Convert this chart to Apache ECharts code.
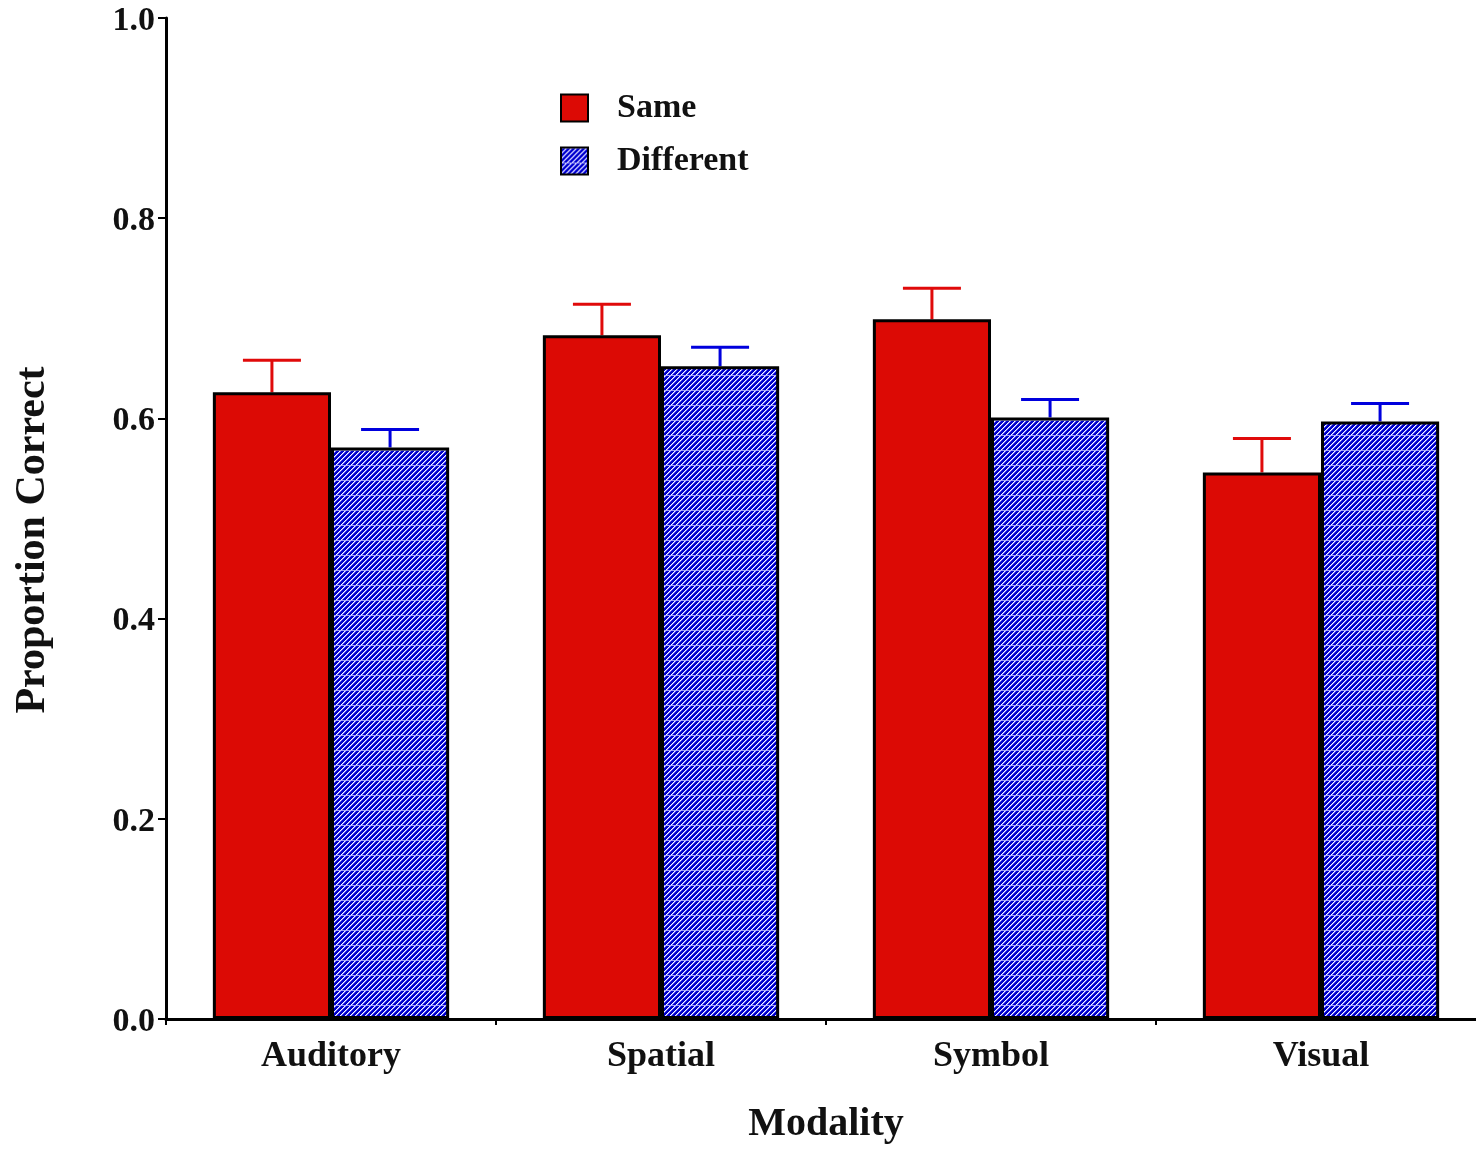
<!DOCTYPE html>
<html>
<head>
<meta charset="utf-8">
<script src="https://cdn.jsdelivr.net/npm/echarts@6/dist/echarts.min.js"></script>
<style>
html,body{margin:0;padding:0;background:#fff;}
#chart{width:1476px;height:1149px;}
</style>
</head>
<body>
<div id="chart"></div>
<script>
const categories = ['Auditory', 'Spatial', 'Symbol', 'Visual'];
const seriesNames = ['Same', 'Different'];
const sameValues = [0.626, 0.683, 0.699, 0.546];
const sameErrors = [0.032, 0.031, 0.031, 0.034];
const diffValues = [0.571, 0.652, 0.601, 0.597];
const diffErrors = [0.018, 0.019, 0.018, 0.018];
const yTicks = [0, 0.2, 0.4, 0.6, 0.8, 1.0];

const FONT = '"Liberation Serif", "Times New Roman", serif';
const RED = '#dc0a05';
const BLUE = '#0000cc';

function makeHatch() {
  const W = 5, H = 15;
  const c = document.createElement('canvas');
  c.width = W; c.height = H;
  const ctx = c.getContext('2d');
  ctx.fillStyle = BLUE;
  ctx.fillRect(0, 0, W, H);
  for (let y = 0; y < H; y++) {
    for (let x = 0; x < W; x++) {
      const m = (x + y) % 5;
      if (m === 0) { ctx.fillStyle = '#ffffff'; ctx.fillRect(x, y, 1, 1); }
      else if (m === 1) { ctx.fillStyle = '#7a7aff'; ctx.fillRect(x, y, 1, 1); }
    }
  }
  ctx.fillStyle = 'rgba(190,190,255,0.8)';
  ctx.fillRect(0, 0, W, 1);
  return c;
}
const hatch = makeHatch();

const BAR_FRAC = 0.358;

function errorSeries(name, values, errors, sign, color) {
  return {
    name: name + ' error',
    type: 'custom',
    z: 1,
    silent: true,
    encode: { x: 0, y: [1, 2] },
    data: values.map((v, i) => [i, v, v + errors[i]]),
    renderItem: function (params, api) {
      const idx = api.value(0);
      const base = api.coord([idx, api.value(1)]);
      const top = api.coord([idx, api.value(2)]);
      const band = api.size([1, 0])[0];
      const barW = band * BAR_FRAC;
      const x = base[0] + sign * barW / 2;
      const capHalf = 29;
      const style = { stroke: color, lineWidth: 3 };
      return {
        type: 'group',
        children: [
          { type: 'line', shape: { x1: x, y1: base[1], x2: x, y2: top[1] }, style: style },
          { type: 'line', shape: { x1: x - capHalf, y1: top[1], x2: x + capHalf, y2: top[1] }, style: style }
        ]
      };
    }
  };
}

const chart = echarts.init(document.getElementById('chart'), null, { renderer: 'canvas' });
chart.setOption({
  backgroundColor: '#ffffff',
  animation: false,
  grid: { left: 166, width: 1320, top: 18, bottom: 130, containLabel: false, outerBoundsMode: 'none' },
  legend: {
    data: seriesNames,
    orient: 'vertical',
    left: 555,
    top: 86,
    itemWidth: 27,
    itemHeight: 27,
    itemGap: 19,
    icon: 'rect',
    textStyle: { fontFamily: FONT, fontWeight: 'bold', fontSize: 34, color: '#111', padding: [0, 0, 0, 24] }
  },
  xAxis: {
    type: 'category',
    data: categories,
    name: 'Modality',
    nameLocation: 'middle',
    nameGap: 86,
    nameTextStyle: { fontFamily: FONT, fontWeight: 'bold', fontSize: 40, color: '#111' },
    axisLine: { lineStyle: { color: '#000', width: 3 } },
    axisTick: { show: true, length: 6, lineStyle: { color: '#000', width: 2 } },
    axisLabel: { fontFamily: FONT, fontWeight: 'bold', fontSize: 36, color: '#111', margin: 20 }
  },
  yAxis: {
    type: 'value',
    min: yTicks[0],
    max: yTicks[yTicks.length - 1],
    interval: 0.2,
    splitLine: { show: false },
    axisLine: { show: true, lineStyle: { color: '#000', width: 3 } },
    axisTick: { show: true, length: 8, lineStyle: { color: '#000', width: 2 } },
    axisLabel: {
      color: '#111', margin: 11,
      formatter: v => '{t|' + v.toFixed(1) + '}',
      rich: { t: { fontFamily: FONT, fontWeight: 'bold', fontSize: 34, color: '#111', padding: [6, 0, 0, 0] } }
    }
  },
  graphic: [{
    type: 'text',
    x: 33, y: 540,
    rotation: Math.PI / 2,
    style: { text: 'Proportion Correct', font: 'bold 42px ' + FONT, fill: '#111', align: 'center', verticalAlign: 'middle' }
  }],
  series: [
    {
      name: seriesNames[0], type: 'bar', data: sameValues, z: 2,
      barWidth: (BAR_FRAC * 100) + '%', barGap: '0%',
      itemStyle: { color: RED, borderColor: '#000', borderWidth: 3 }
    },
    {
      name: seriesNames[1], type: 'bar', data: diffValues, z: 2,
      barWidth: (BAR_FRAC * 100) + '%', barGap: '0%',
      itemStyle: { color: { image: hatch, repeat: 'repeat' }, borderColor: '#000', borderWidth: 3 }
    },
    errorSeries('Same', sameValues, sameErrors, -1, '#e00a0a'),
    errorSeries('Different', diffValues, diffErrors, 1, '#0000dd')
  ]
});
</script>
</body>
</html>
